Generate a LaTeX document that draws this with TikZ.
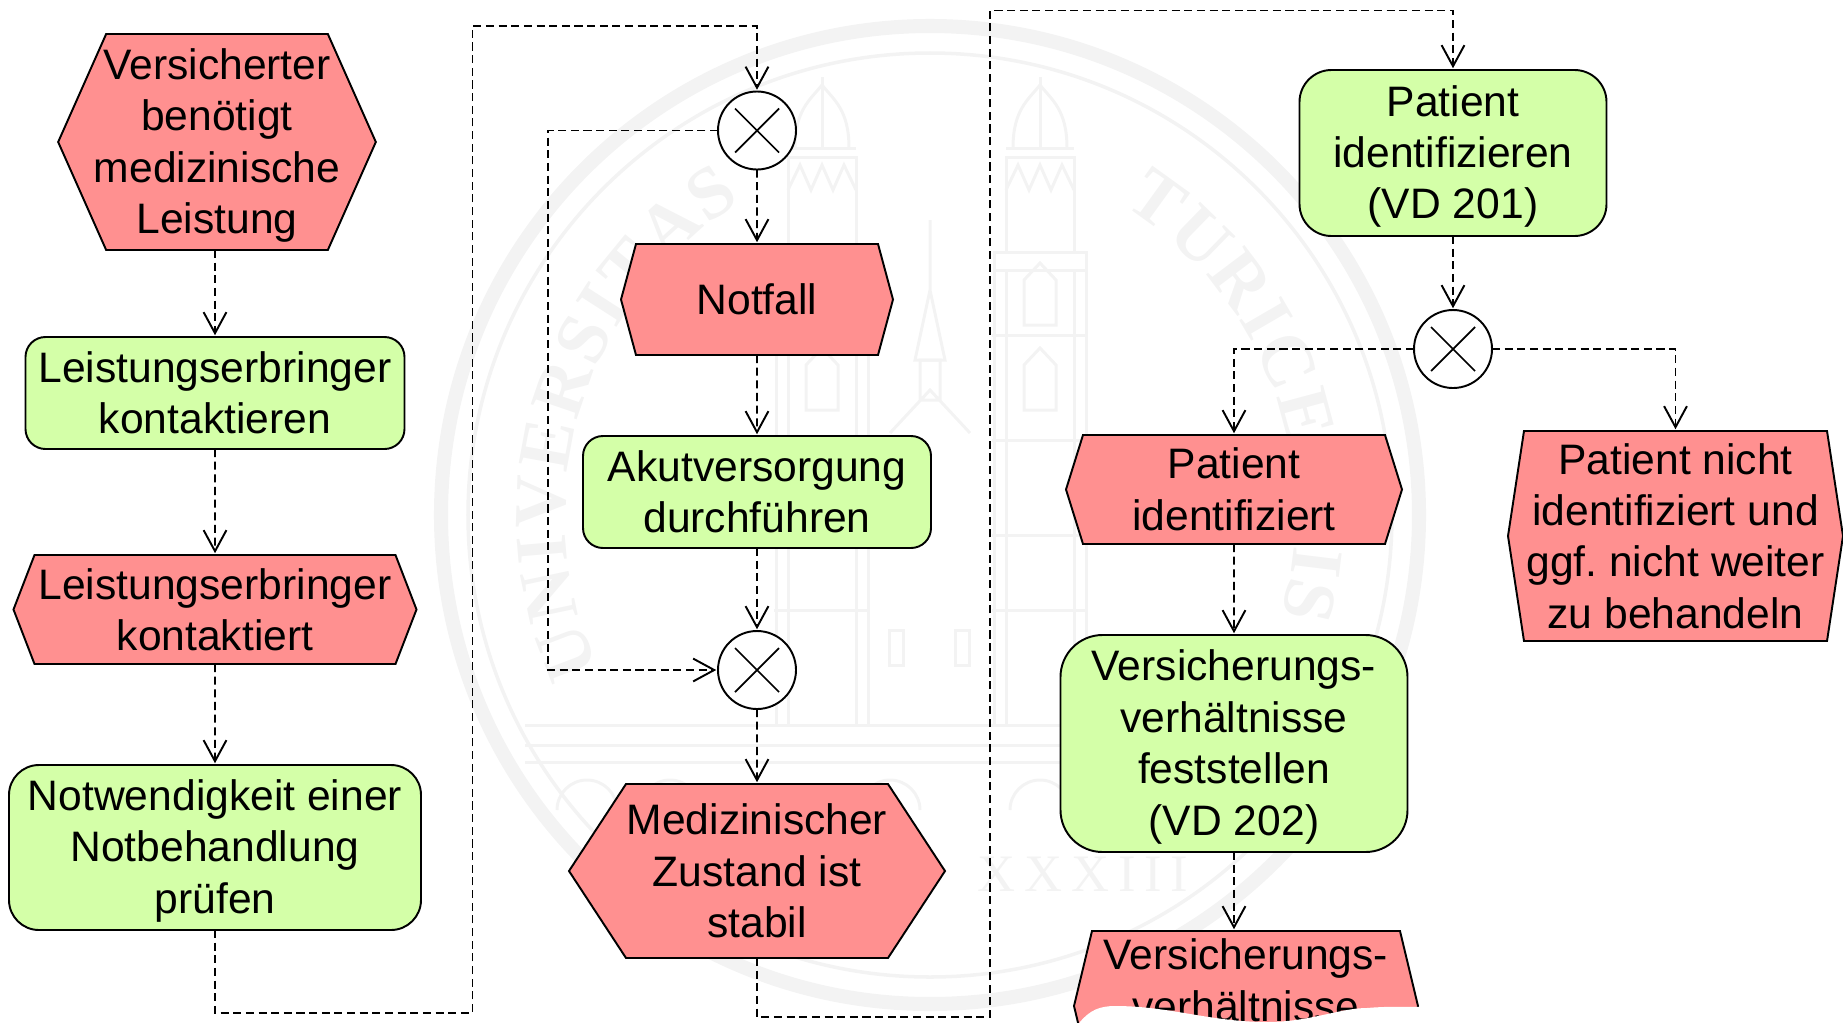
\documentclass[tikz,border=0pt]{standalone}
\usepackage{fontspec}
\setmainfont{Liberation Sans}
\newfontfamily\sealfont{Liberation Serif}
\usetikzlibrary{arrows.meta, positioning, shapes.symbols, decorations.text}
\definecolor{ereignisrot}{HTML}{FF9090}
\definecolor{aktiongruen}{HTML}{D4FFA8}
\definecolor{siegel}{HTML}{F3F3F3}
\newcommand{\tief}{\rule{0pt}{21.5pt}}
\tikzset{
  ereignis/.style n args={3}{signal, signal to=east and west, signal from=nowhere,
    signal pointer angle={2*atan(#2/2/#3)}, draw=black, fill=ereignisrot, line width=1.1pt,
    inner sep=0pt, outer sep=0pt, align=center, minimum width=#1*.02cm, minimum height=#2*.02cm},
  aktion/.style n args={3}{rectangle, rounded corners=#3*.02cm, draw=black, fill=aktiongruen,
    line width=1.1pt, inner sep=0pt, outer sep=0pt, align=center,
    minimum width=#1*.02cm, minimum height=#2*.02cm},
  xoder/.style={circle, draw=black, fill=white, line width=1.1pt, inner sep=0pt, outer sep=0pt,
    minimum size=78*.02cm, path picture={
      \draw[line width=1pt] (path picture bounding box.center) +(-22,22) -- +(22,-22)
        (path picture bounding box.center) +(22,22) -- +(-22,-22);}},
  fluss/.style={dash pattern=on 4.6pt off 2.6pt, line width=1.1pt, shorten >=1pt,
    -{Straight Barb[length=12pt, width=13pt]}},
  bau/.style={draw=siegel, line width=1.7pt}
}
\begin{document}
\begin{tikzpicture}[x=.02cm, y=.02cm, on grid, font=\fontsize{24.25}{29.3}\selectfont]
        \useasboundingbox (0,0) rectangle (1843,-1022);
        \clip (0,0) rectangle (1843,-1022);

        % Siegel im Hintergrund
        \draw[siegel, line width=8pt] (930,-515) circle (489);
        \draw[siegel, line width=2pt] (930,-515) circle (462);
        \path[decorate, decoration={text along path, text color=siegel, text align={fit to path},
            text={|\sealfont\bfseries\fontsize{42}{42}\selectfont|UNIVERSITAS}}]
            (930,-515) ++(205:365) arc[start angle=205, end angle=121, radius=365];
        \path[decorate, decoration={text along path, text color=siegel, text align={fit to path},
            text={|\sealfont\bfseries\fontsize{42}{42}\selectfont|TURICENSIS}}]
            (930,-515) ++(58:365) arc[start angle=58, end angle=-16, radius=365];
        \node[text=siegel, font=\sealfont\fontsize{30}{30}\selectfont] (jahr) at (1083,-874) {X\,X\,X\,I\,I\,I};
        \foreach \x in {822,1040} {
            \draw[bau] (\x-27,-148) .. controls (\x-27,-110) and (\x-12,-100) .. (\x,-85) .. controls (\x+12,-100) and (\x+27,-110) .. (\x+27,-148);
            \draw[bau] (\x,-77) -- (\x,-148) (\x-34,-148) -- (\x+34,-148);
            \draw[bau] (\x-34,-157) rectangle (\x+34,-252) (\x-46,-252) rectangle (\x+46,-270);
            \draw[bau] (\x-34,-190) -- (\x-22,-165) -- (\x-11,-190) -- (\x,-165) -- (\x+11,-190) -- (\x+22,-165) -- (\x+34,-190);
            \draw[bau] (\x-46,-270) -- (\x-46,-725) (\x+46,-270) -- (\x+46,-725);
            \draw[bau] (\x-34,-270) -- (\x-34,-725) (\x+34,-270) -- (\x+34,-725);
            \foreach \y in {335,440,535,610} \draw[bau] (\x-48,-\y) -- (\x+48,-\y);
            \foreach \y in {325,410} \draw[bau] (\x-16,-\y) -- (\x-16,-\y+45) -- (\x,-\y+62) -- (\x+16,-\y+45) -- (\x+16,-\y) -- cycle;
        }
        \draw[bau] (930,-220) -- (930,-290) -- (915,-360) -- (945,-360) -- (930,-290);
        \draw[bau] (920,-360) rectangle (940,-400) (890,-433) -- (930,-390) -- (970,-433);
        \foreach \x in {896,962} \draw[bau] (\x-7,-630) rectangle (\x+7,-665);
        \foreach \y in {725,745,762} \draw[bau] (525,-\y) -- (1335,-\y);
        \foreach \x in {557,640,860,1010,1130,1230} \draw[bau] (\x,-810) arc[start angle=180, end angle=0, radius=30];

        % Knoten
        \node[ereignis={317}{216}{48}, inner xsep=-7pt] (versichert) at (217,-142) {\tief Versicherter\\benötigt\\medizinische\\Leistung};
        \node[aktion={379}{112}{20}] (kontaktieren) at (215,-393) {Leistungserbringer\\kontaktieren};
        \node[ereignis={403}{109}{21}] (kontaktiert) [below=216.5 of kontaktieren] {Leistungserbringer\\kontaktiert};
        \node[aktion={412}{165}{30}] (pruefen) [below=238 of kontaktiert] {\tief Notwendigkeit einer\\Notbehandlung\\prüfen};
        \node[xoder] (xor1) at (757,-130.5) {};
        \node[ereignis={272}{111}{15}] (notfall) [below=169 of xor1] {Notfall};
        \node[aktion={348}{112}{20}] (akut) [below=192.5 of notfall] {Akutversorgung\\durchführen};
        \node[xoder] (xor2) [below=178 of akut] {};
        \node[ereignis={376}{174}{57}] (stabil) [below=201 of xor2] {Medizinischer\\Zustand ist\\stabil};
        \node[aktion={307}{166}{32}] (identifizieren) at (1453,-153) {\tief Patient\\identifizieren\\(VD 201)};
        \node[xoder] (xor3) [below=196 of identifizieren] {};
        \node[ereignis={336}{109}{17}] (identifiziert) at (1234,-489.5) {Patient\\identifiziert};
        \node[ereignis={335}{210}{16}] (nichtident) at (1675.5,-536) {Patient nicht\\identifiziert und\\ggf.\ nicht weiter\\zu behandeln};
        \node[aktion={347}{217}{42}] (feststellen) [below=254 of identifiziert] {\tief Versicherungs-\\verhältnisse\\feststellen\\(VD 202)};
        \node[ereignis={344}{150}{18}] (verhaeltnisse) at (1246,-1006) {Versicherungs-\\verhältnisse\\\mbox{}};

        % abgerissener Rand
        \fill[white] (1080,-1022) .. controls (1090,-1010) and (1100,-1006) .. (1115,-1006)
            .. controls (1170,-1006) and (1210,-1022) .. (1267,-1022)
            .. controls (1310,-1022) and (1340,-1008) .. (1367,-1008)
            .. controls (1390,-1006) and (1410,-1007) .. (1422,-1007) -- (1422,-1030) -- (1075,-1030) -- cycle;

        % Pfeile
        \coordinate (p1) at (215,-1013);
        \coordinate (p2) at (472.5,-1013);
        \coordinate (p3) at (472.5,-26);
        \coordinate (s1) at (548,-130.5);
        \coordinate (q1) at (757,-1017);
        \coordinate (q2) at (990,-1017);
        \coordinate (q3) at (990,-10.5);
        \draw[fluss] (versichert.south -| kontaktieren) -- (kontaktieren);
        \draw[fluss] (kontaktieren) -- (kontaktiert);
        \draw[fluss] (kontaktiert) -- (pruefen);
        \draw[fluss] (pruefen.south) -- (p1) -- (p2) -- (p3) -| (xor1.north);
        \draw[fluss] (xor1) -- (notfall);
        \draw[fluss] (notfall) -- (akut);
        \draw[fluss] (akut) -- (xor2);
        \draw[fluss] (xor2) -- (stabil);
        \draw[fluss] (xor1.west) -- (s1) |- (xor2.west);
        \draw[fluss] (stabil.south) -- (q1) -- (q2) -- (q3) -| (identifizieren.north);
        \draw[fluss] (identifizieren) -- (xor3);
        \draw[fluss] (xor3.west) -| (identifiziert.north);
        \draw[fluss] (xor3.east) -| (nichtident.north);
        \draw[fluss] (identifiziert) -- (feststellen);
        \draw[fluss] (feststellen.south) -- (feststellen.south |- verhaeltnisse.north);
\end{tikzpicture}
\end{document}
